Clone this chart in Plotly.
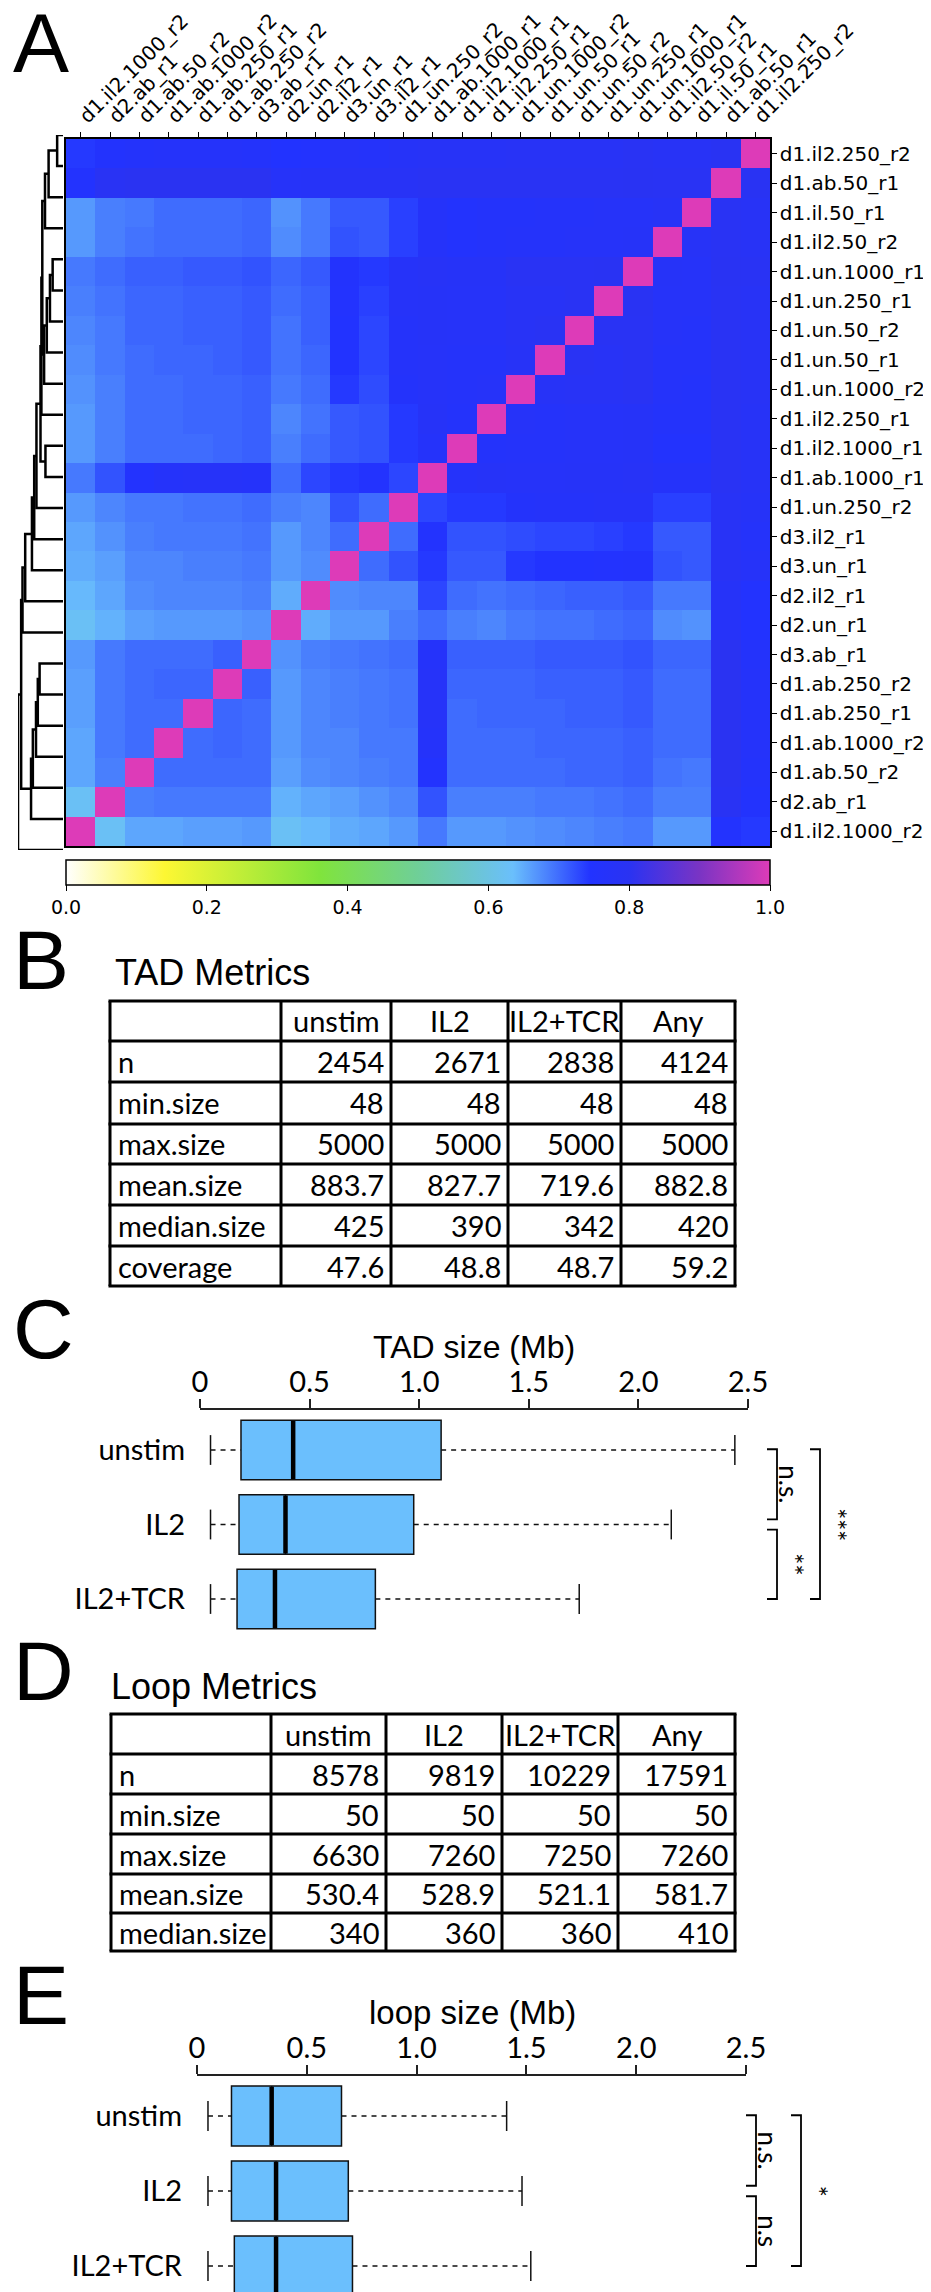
import plotly.graph_objects as go

# ------------------------------------------------------------------------
# Panel A: correlation between Hi-C samples (samples in column order,
# left to right; the heatmap rows use the same order from the bottom up)
samples = ["d1.il2.1000_r2", "d2.ab_r1", "d1.ab.50_r2", "d1.ab.1000_r2", "d1.ab.250_r1",
           "d1.ab.250_r2", "d3.ab_r1", "d2.un_r1", "d2.il2_r1", "d3.un_r1", "d3.il2_r1",
           "d1.un.250_r2", "d1.ab.1000_r1", "d1.il2.1000_r1", "d1.il2.250_r1",
           "d1.un.1000_r2", "d1.un.50_r1", "d1.un.50_r2", "d1.un.250_r1", "d1.un.1000_r1",
           "d1.il2.50_r2", "d1.il.50_r1", "d1.ab.50_r1", "d1.il2.250_r2"]

# lower triangle, row i holds corr(sample i, sample j) for j < i
corr_lower = [
    [],
    [0.625],
    [0.655, 0.685],
    [0.655, 0.69, 0.70],
    [0.66, 0.69, 0.70, 0.70],
    [0.66, 0.69, 0.70, 0.705, 0.705],
    [0.665, 0.69, 0.70, 0.70, 0.70, 0.71],
    [0.625, 0.645, 0.66, 0.665, 0.665, 0.665, 0.67],
    [0.64, 0.655, 0.675, 0.68, 0.68, 0.68, 0.685, 0.65],
    [0.65, 0.66, 0.68, 0.68, 0.685, 0.685, 0.69, 0.665, 0.675],
    [0.655, 0.67, 0.685, 0.69, 0.69, 0.69, 0.695, 0.665, 0.68, 0.70],
    [0.665, 0.68, 0.69, 0.69, 0.695, 0.695, 0.70, 0.685, 0.68, 0.72, 0.70],
    [0.69, 0.72, 0.75, 0.765, 0.77, 0.77, 0.765, 0.70, 0.73, 0.74, 0.75, 0.73],
    [0.665, 0.685, 0.70, 0.70, 0.70, 0.705, 0.71, 0.685, 0.70, 0.715, 0.72, 0.74, 0.765],
    [0.665, 0.685, 0.70, 0.70, 0.705, 0.705, 0.71, 0.68, 0.695, 0.715, 0.72, 0.74, 0.775,
     0.76],
    [0.67, 0.685, 0.70, 0.70, 0.705, 0.705, 0.71, 0.69, 0.70, 0.74, 0.725, 0.76, 0.77,
     0.765, 0.77],
    [0.675, 0.69, 0.70, 0.705, 0.705, 0.71, 0.715, 0.695, 0.705, 0.745, 0.73, 0.765, 0.77,
     0.765, 0.765, 0.78],
    [0.68, 0.69, 0.705, 0.705, 0.71, 0.71, 0.715, 0.695, 0.71, 0.745, 0.73, 0.765, 0.775,
     0.77, 0.77, 0.785, 0.79],
    [0.685, 0.695, 0.705, 0.705, 0.71, 0.71, 0.715, 0.70, 0.71, 0.75, 0.735, 0.77, 0.775,
     0.77, 0.77, 0.785, 0.785, 0.79],
    [0.69, 0.70, 0.71, 0.71, 0.715, 0.715, 0.72, 0.705, 0.715, 0.755, 0.74, 0.77, 0.78,
     0.775, 0.775, 0.79, 0.79, 0.79, 0.795],
    [0.665, 0.685, 0.695, 0.70, 0.70, 0.70, 0.705, 0.675, 0.69, 0.72, 0.715, 0.735, 0.765,
     0.755, 0.76, 0.765, 0.765, 0.77, 0.77, 0.775],
    [0.665, 0.685, 0.69, 0.70, 0.70, 0.70, 0.705, 0.67, 0.69, 0.715, 0.715, 0.735, 0.765,
     0.755, 0.76, 0.76, 0.765, 0.765, 0.77, 0.77, 0.78],
    [0.75, 0.79, 0.80, 0.80, 0.80, 0.80, 0.80, 0.77, 0.775, 0.785, 0.785, 0.785, 0.79,
     0.79, 0.79, 0.79, 0.79, 0.79, 0.79, 0.795, 0.79, 0.79],
    [0.74, 0.755, 0.76, 0.765, 0.765, 0.765, 0.76, 0.745, 0.75, 0.77, 0.765, 0.775, 0.78,
     0.78, 0.78, 0.785, 0.785, 0.785, 0.785, 0.79, 0.785, 0.785, 0.795],
]

cbar_ticks = [0.0, 0.2, 0.4, 0.6, 0.8, 1.0]

# row dendrogram: (left node, right node, height); leaves numbered from the top row
# down, every merge gets the next node id (24, 25, ...)
dendro_merges = [
    (0, 1, 0.13), (24, 2, 0.32), (25, 3, 0.40),
    (4, 5, 0.23), (27, 6, 0.29), (28, 7, 0.36), (29, 8, 0.42),
    (26, 30, 0.46), (10, 11, 0.39), (31, 9, 0.48), (33, 32, 0.50),
    (34, 12, 0.59), (35, 13, 0.64), (36, 14, 0.69), (37, 15, 0.84), (38, 16, 0.90),
    (17, 18, 0.52), (40, 19, 0.56), (41, 20, 0.60), (42, 21, 0.67), (43, 22, 0.71),
    (39, 44, 0.93), (45, 23, 1.00),
]

# Panel B: TAD metrics
metric_cols = ["unstim", "IL2", "IL2+TCR", "Any"]
tad_metrics = ["n", "min.size", "max.size", "mean.size", "median.size", "coverage"]
tad_unstim = ["2454", "48", "5000", "883.7", "425", "47.6"]
tad_il2 = ["2671", "48", "5000", "827.7", "390", "48.8"]
tad_il2tcr = ["2838", "48", "5000", "719.6", "342", "48.7"]
tad_any = ["4124", "48", "5000", "882.8", "420", "59.2"]

# Panels C and E: box plot summaries (Mb)
groups = ["unstim", "IL2", "IL2+TCR"]
tad_low = [0.048, 0.048, 0.048]
tad_q1 = [0.187, 0.178, 0.169]
tad_med = [0.425, 0.390, 0.342]
tad_q3 = [1.10, 0.975, 0.80]
tad_high = [2.44, 2.15, 1.73]

# Panel D: loop metrics
loop_metrics = ["n", "min.size", "max.size", "mean.size", "median.size"]
loop_unstim = ["8578", "50", "6630", "530.4", "340"]
loop_il2 = ["9819", "50", "7260", "528.9", "360"]
loop_il2tcr = ["10229", "50", "7250", "521.1", "360"]
loop_any = ["17591", "50", "7260", "581.7", "410"]

loop_low = [0.05, 0.05, 0.05]
loop_q1 = [0.157, 0.157, 0.170]
loop_med = [0.340, 0.360, 0.360]
loop_q3 = [0.658, 0.689, 0.708]
loop_high = [1.41, 1.48, 1.52]

size_ticks = [0, 0.5, 1.0, 1.5, 2.0, 2.5]
size_ticktext = ["0", "0.5", "1.0", "1.5", "2.0", "2.5"]

# significance brackets: (first group, last group, label)
tad_tests = [(0, 1, "n.s."), (1, 2, "**"), (0, 2, "***")]
loop_tests = [(0, 1, "n.s."), (1, 2, "n.s"), (0, 2, "*")]

# ------------------------------------------------------------------------
W, H = 931, 2292


def px(x):
    return x / W


def py(y):
    return 1 - y / H


cscale = [[0.0, "#ffffff"], [0.14, "#fdf733"], [0.36, "#80e43c"], [0.50, "#6fcf98"],
          [0.635, "#6abffc"], [0.745, "#2233ff"], [0.80, "#2a33f2"], [0.90, "#7a34c4"],
          [1.0, "#dd3bb8"]]
box_fill = "#6bbffd"
ink = "#111111"
arial = "Liberation Sans, Arial, sans-serif"
calibri = "Lato, Carlito, Calibri, sans-serif"

n = len(samples)
corr = [[1.0] * n for _ in range(n)]
for i, row in enumerate(corr_lower):
    for j, v in enumerate(row):
        corr[i][j] = v
        corr[j][i] = v

fig = go.Figure()

fig.add_trace(go.Heatmap(
    z=corr, x=list(range(n)), y=list(range(n)),
    zmin=0, zmax=1, colorscale=cscale, xaxis="x", yaxis="y",
    colorbar=dict(orientation="h", x=px(410), xanchor="center", y=py(852), yanchor="top",
                  len=704 / W, lenmode="fraction", thickness=25, xpad=0, ypad=0,
                  outlinewidth=1.5, outlinecolor="black",
                  tickvals=cbar_ticks, ticktext=["%.1f" % t for t in cbar_ticks],
                  ticks="outside", ticklen=6, tickcolor="black",
                  tickfont=dict(family="DejaVu Sans", size=19, color="black")),
))

# dendrogram lines, node position = midpoint of its children
node_pos = {k: float(k) for k in range(n)}
node_h = {k: 0.0 for k in range(n)}
dx, dy = [], []
for k, (a, b, h) in enumerate(dendro_merges):
    dx += [node_h[a], h, h, node_h[b], None]
    dy += [node_pos[a], node_pos[a], node_pos[b], node_pos[b], None]
    node_pos[n + k] = (node_pos[a] + node_pos[b]) / 2
    node_h[n + k] = h

fig.add_trace(go.Scatter(x=dx, y=dy, mode="lines", line=dict(color="black", width=2.5),
                         xaxis="x2", yaxis="y2", cliponaxis=False, hoverinfo="skip"))


def add_boxes(xa, ya, low, q1, med, q3, high):
    pos = list(range(len(groups)))
    fig.add_trace(go.Box(y=pos, q1=q1, median=med, q3=q3, lowerfence=q1, upperfence=q3,
                         orientation="h", width=0.8, whiskerwidth=0, boxpoints=False,
                         fillcolor=box_fill, line=dict(color=ink, width=1.5),
                         xaxis=xa, yaxis=ya, hoverinfo="skip"))
    wx, wy, cx, cy, mx, my = [], [], [], [], [], []
    for p in pos:
        wx += [low[p], q1[p], None, q3[p], high[p], None]
        wy += [p, p, None, p, p, None]
        cx += [low[p], low[p], None, high[p], high[p], None]
        cy += [p - 0.2, p + 0.2, None, p - 0.2, p + 0.2, None]
        mx += [med[p], med[p], None]
        my += [p - 0.39, p + 0.39, None]
    fig.add_trace(go.Scatter(x=wx, y=wy, mode="lines", xaxis=xa, yaxis=ya,
                             line=dict(color=ink, width=1.3, dash="5px,5px"), hoverinfo="skip"))
    fig.add_trace(go.Scatter(x=cx, y=cy, mode="lines", xaxis=xa, yaxis=ya,
                             line=dict(color=ink, width=1.5), hoverinfo="skip"))
    fig.add_trace(go.Scatter(x=mx, y=my, mode="lines", xaxis=xa, yaxis=ya,
                             line=dict(color="black", width=4.5), hoverinfo="skip"))


add_boxes("x3", "y3", tad_low, tad_q1, tad_med, tad_q3, tad_high)
add_boxes("x4", "y4", loop_low, loop_q1, loop_med, loop_q3, loop_high)

annotations = []
shapes = []


def text(x, y, s, size, family=calibri, xanchor="left", angle=0, xref="paper", yref="paper"):
    annotations.append(dict(x=x, y=y, xref=xref, yref=yref, text=s, showarrow=False,
                            xanchor=xanchor, yanchor="middle", textangle=angle,
                            font=dict(family=family, size=size, color="black")))


# panel letters
for letter, yc in [("A", 35), ("B", 952), ("C", 1321), ("D", 1663), ("E", 1987)]:
    text(px(3), py(yc), letter, 84, family=arial)

# panel titles
text(px(105), py(965), "TAD Metrics", 36, family=arial)
text(px(101), py(1679), "Loop Metrics", 36, family=arial)
text(px(466), py(1339), "TAD size (Mb)", 32, family=arial, xanchor="center")
text(px(464), py(2004), "loop size (Mb)", 33, family=arial, xanchor="center")


def draw_table(col_edges, row_edges, metrics, columns):
    for xe in col_edges:
        shapes.append(dict(type="line", xref="paper", yref="paper", x0=px(xe), x1=px(xe),
                           y0=py(row_edges[0]), y1=py(row_edges[-1]),
                           line=dict(color="black", width=3)))
    for ye in row_edges:
        shapes.append(dict(type="line", xref="paper", yref="paper", x0=px(col_edges[0] - 1.5),
                           x1=px(col_edges[-1] + 1.5), y0=py(ye), y1=py(ye),
                           line=dict(color="black", width=3)))
    head_y = (row_edges[0] + row_edges[1]) / 2
    for c, name in enumerate(metric_cols):
        text(px((col_edges[c + 1] + col_edges[c + 2]) / 2), py(head_y), name, 29,
             xanchor="center")
    for r, name in enumerate(metrics):
        yc = (row_edges[r + 1] + row_edges[r + 2]) / 2
        text(px(col_edges[0] + 6), py(yc), name, 29)
        for c, vals in enumerate(columns):
            text(px(col_edges[c + 2] - 5), py(yc), vals[r], 29, xanchor="right")


draw_table([102, 273, 383, 500, 613, 727], [993, 1033, 1074, 1116, 1156, 1197, 1238, 1278],
           tad_metrics, [tad_unstim, tad_il2, tad_il2tcr, tad_any])
draw_table([103, 263, 378, 494, 610, 727], [1706, 1746, 1786, 1826, 1866, 1905, 1943],
           loop_metrics, [loop_unstim, loop_il2, loop_il2tcr, loop_any])


def draw_tests(tests, yref, inner_x, outer_x, gap):
    for a, b, label in tests:
        if b - a == 1:
            x = inner_x
            y0 = a + (gap if a > 0 else -0.01)
            y1 = b - (gap if a == 0 else 0)
            tx = x + 12 if "." in label else x + 16
        else:
            x = outer_x
            y0, y1 = a - 0.01, b
            tx = x + 16
        shapes.append(dict(type="path", xref="paper", yref=yref,
                           path="M %f,%f L %f,%f L %f,%f L %f,%f" % (
                               px(x - 10), y0, px(x), y0, px(x), y1, px(x - 10), y1),
                           line=dict(color="black", width=1.8)))
        text(px(tx), (y0 + y1) / 2, label, 26, xanchor="center", angle=90, yref=yref)


draw_tests(tad_tests, "y3", 769, 812, 0.07)
draw_tests(loop_tests, "y4", 748, 793, 0.07)

axis_font = dict(family=calibri, size=29, color="black")
heat_font = dict(family="DejaVu Sans", size=20, color="black")

fig.update_layout(
    width=W, height=H, margin=dict(l=0, r=0, t=0, b=0),
    paper_bgcolor="white", plot_bgcolor="white", showlegend=False,
    template="none",
    annotations=annotations, shapes=shapes,
    xaxis=dict(domain=[px(58), px(762)], range=[-0.5, n - 0.5], anchor="y", side="top",
               tickvals=list(range(n)), ticktext=samples, tickangle=-45, tickfont=heat_font,
               ticks="outside", ticklen=5, tickcolor="black", ticklabelstandoff=-3,
               showline=True, mirror=True,
               linecolor="black", linewidth=1.5, showgrid=False, zeroline=False),
    yaxis=dict(domain=[py(838), py(131)], range=[-0.5, n - 0.5], anchor="x", side="right",
               tickvals=list(range(n)), ticktext=samples, tickfont=heat_font,
               ticks="outside", ticklen=5, tickcolor="black", ticklabelstandoff=-1,
               showline=True, mirror=True,
               linecolor="black", linewidth=1.5, showgrid=False, zeroline=False),
    xaxis2=dict(domain=[px(10), px(55)], range=[1.0, 0.0], anchor="y2", visible=False),
    yaxis2=dict(domain=[py(842), py(127)], range=[n - 1, 0], anchor="x2", visible=False),
    xaxis3=dict(domain=[px(192), px(740)], range=[0, 2.5], anchor="y3", side="top",
                tickvals=size_ticks, ticktext=size_ticktext, tickfont=axis_font,
                ticks="outside", ticklen=9, tickwidth=1.5, tickcolor="#222",
                ticklabelstandoff=-4,
                showline=True, linecolor="#222", linewidth=1.5, showgrid=False, zeroline=False),
    yaxis3=dict(domain=[py(1631), py(1402)], range=[2.537, -0.537], anchor="x3",
                tickvals=[0, 1, 2], ticktext=groups, tickfont=axis_font, ticks="",
                ticklabelstandoff=14, showline=False, showgrid=False, zeroline=False),
    xaxis4=dict(domain=[px(189), px(738)], range=[0, 2.5], anchor="y4", side="top",
                tickvals=size_ticks, ticktext=size_ticktext, tickfont=axis_font,
                ticks="outside", ticklen=9, tickwidth=1.5, tickcolor="#222",
                ticklabelstandoff=-4,
                showline=True, linecolor="#222", linewidth=1.5, showgrid=False, zeroline=False),
    yaxis4=dict(domain=[0, py(2068)], range=[2.453, -0.533], anchor="x4",
                tickvals=[0, 1, 2], ticktext=groups, tickfont=axis_font, ticks="",
                ticklabelstandoff=14, showline=False, showgrid=False, zeroline=False),
)

fig.write_html("out.html")
